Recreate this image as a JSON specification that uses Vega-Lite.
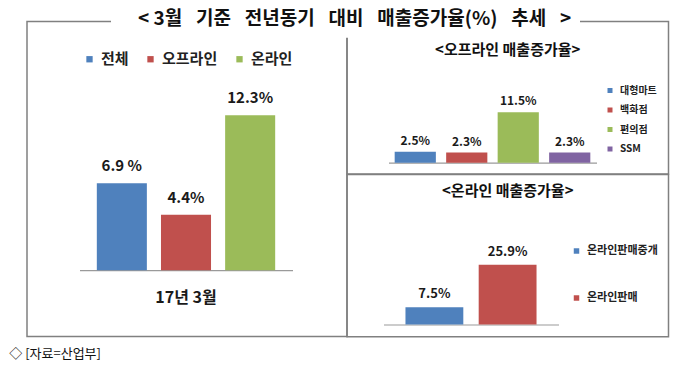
{
  "$schema": "https://vega.github.io/schema/vega-lite/v6.json",
  "background": "white",
  "padding": {"left": 9, "top": 1.5, "right": 10, "bottom": 8},
  "config": {
    "font": "Noto Sans CJK KR",
    "view": {"stroke": "#808080", "strokeWidth": 1.5},
    "axis": {"grid": false, "ticks": false, "domainColor": "#9a9a9a", "domainWidth": 1.2},
    "legend": {"labelFont": "Noto Sans CJK KR", "labelFontWeight": "bold", "labelColor": "#222", "symbolType": "square", "symbolStrokeWidth": 0, "padding": 0, "title": null},
    "text": {"font": "Noto Sans CJK KR", "fontWeight": "bold", "color": "#1a1a1a"}
  },
  "title": {"text": "◇ [자료=산업부]", "orient": "bottom", "anchor": "start", "fontSize": 13, "fontWeight": "normal", "color": "#111", "offset": 10, "dx": -17},
  "spacing": 0,
  "bounds": "flush",
  "resolve": {"scale": {"color": "independent"}, "legend": {"color": "independent"}},
  "hconcat": [
    {
      "width": 320,
      "height": 315,
      "data": {"values": [
        {"기간": "17년 3월", "구분": "전체", "증가율": 6.9, "라벨": "6.9 %"},
        {"기간": "17년 3월", "구분": "오프라인", "증가율": 4.4, "라벨": "4.4%"},
        {"기간": "17년 3월", "구분": "온라인", "증가율": 12.3, "라벨": "12.3%"}
      ]},
      "encoding": {
        "x": {"field": "기간", "type": "nominal", "scale": {"range": [52.5, 265.5], "paddingInner": 0, "paddingOuter": 0},
              "axis": {"title": null, "labelAngle": 0, "labelPadding": 19, "labelFontSize": 16, "labelFontWeight": "bold", "labelColor": "#1a1a1a", "offset": -66.3}},
        "xOffset": {"field": "구분", "type": "nominal", "sort": ["전체", "오프라인", "온라인"], "scale": {"paddingInner": 0.22, "paddingOuter": 0.27}},
        "y": {"field": "증가율", "type": "quantitative", "scale": {"domain": [0, 19.74], "range": [248.7, 0], "nice": false, "zero": true}, "axis": null}
      },
      "layer": [
        {
          "mark": {"type": "bar"},
          "encoding": {
            "color": {"field": "구분", "type": "nominal", "sort": ["전체", "오프라인", "온라인"],
                      "scale": {"domain": ["전체", "오프라인", "온라인"], "range": ["#4F81BD", "#C0504D", "#9BBB59"]},
                      "legend": {"orient": "none", "legendX": 55, "legendY": 30, "direction": "horizontal", "labelFontSize": 15, "symbolSize": 40, "columnPadding": 14, "labelOffset": 4}}
          }
        },
        {
          "mark": {"type": "text", "baseline": "bottom", "dy": -9, "fontSize": 15},
          "encoding": {"text": {"field": "라벨"}}
        }
      ]
    },
    {
      "spacing": 0,
      "bounds": "flush",
      "resolve": {"scale": {"color": "independent"}, "legend": {"color": "independent"}},
      "vconcat": [
        {
          "width": 321.5,
          "height": 152.4,
          "title": {"text": "<오프라인 매출증가율>", "fontSize": 15, "fontWeight": "bold", "anchor": "middle", "offset": -36, "color": "#111"},
          "data": {"values": [
            {"업태": "대형마트", "증가율": 2.5, "라벨": "2.5%"},
            {"업태": "백화점", "증가율": 2.3, "라벨": "2.3%"},
            {"업태": "편의점", "증가율": 11.5, "라벨": "11.5%"},
            {"업태": "SSM", "증가율": 2.3, "라벨": "2.3%"}
          ]},
          "encoding": {
            "x": {"field": "업태", "type": "nominal", "sort": ["대형마트", "백화점", "편의점", "SSM"],
                  "scale": {"range": [41.5, 249.5], "paddingInner": 0.2, "paddingOuter": 0.12},
                  "axis": {"title": null, "labels": false, "offset": -11.2}},
            "y": {"field": "증가율", "type": "quantitative", "scale": {"domain": [0, 32.16], "range": [141.2, 0], "nice": false}, "axis": null}
          },
          "layer": [
            {
              "mark": {"type": "bar"},
              "encoding": {
                "color": {"field": "업태", "type": "nominal", "sort": ["대형마트", "백화점", "편의점", "SSM"],
                          "scale": {"domain": ["대형마트", "백화점", "편의점", "SSM"], "range": ["#4F81BD", "#C0504D", "#9BBB59", "#8064A2"]},
                          "legend": {"orient": "none", "legendX": 258, "legendY": 64, "direction": "vertical", "labelFontSize": 10, "symbolSize": 25, "rowPadding": 9.5, "labelOffset": 5}}
              }
            },
            {
              "mark": {"type": "text", "baseline": "bottom", "dy": -4, "fontSize": 12},
              "encoding": {"text": {"field": "라벨"}}
            }
          ]
        },
        {
          "width": 321.5,
          "height": 162.3,
          "title": {"text": "<온라인 매출증가율>", "fontSize": 15, "fontWeight": "bold", "anchor": "middle", "offset": -24, "color": "#111"},
          "layer": [
            {
              "data": {"values": [
                {"유형": "온라인판매중개", "증가율": 7.5, "라벨": "7.5%"},
                {"유형": "온라인판매", "증가율": 25.9, "라벨": "25.9%"}
              ]},
              "encoding": {
                "x": {"field": "유형", "type": "nominal", "sort": ["온라인판매중개", "온라인판매"],
                      "scale": {"range": [36.5, 211.5], "paddingInner": 0.21, "paddingOuter": 0.3},
                      "axis": {"title": null, "labels": false, "offset": -12.3}},
                "y": {"field": "증가율", "type": "quantitative", "scale": {"domain": [0, 65.1], "range": [150, 0], "nice": false}, "axis": null}
              },
              "layer": [
                {
                  "mark": {"type": "bar"},
                  "encoding": {
                    "color": {"field": "유형", "type": "nominal", "sort": ["온라인판매중개", "온라인판매"],
                              "scale": {"domain": ["온라인판매중개", "온라인판매"], "range": ["#4F81BD", "#C0504D"]},
                              "legend": {"orient": "none", "legendX": 224, "legendY": 71, "direction": "vertical", "labelFontSize": 11, "symbolSize": 30, "rowPadding": 35, "labelOffset": 5}}
                  }
                },
                {
                  "mark": {"type": "text", "baseline": "bottom", "dy": -6, "fontSize": 13},
                  "encoding": {"text": {"field": "라벨"}}
                }
              ]
            },
            {
              "data": {"values": [{"제목": "< 3월\u2002 기준\u2002 전년동기\u2002 대비\u2002 매출증가율(%)\u2002 추세\u2002 >"}]},
              "mark": {"type": "point", "opacity": 0},
              "encoding": {
                "shape": {"field": "제목", "type": "nominal",
                          "legend": {"orient": "none", "legendX": 84, "legendY": -19.8, "fillColor": "white", "padding": 8,
                                     "symbolSize": 0, "symbolOpacity": 0, "labelOffset": 0, "labelLimit": 0,
                                     "labelFontSize": 19, "labelFontWeight": "bold", "labelColor": "#111"}}
              }
            }
          ]
        }
      ]
    }
  ]
}
